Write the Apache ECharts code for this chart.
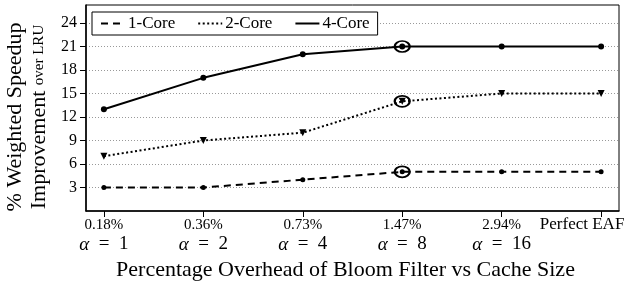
<!DOCTYPE html>
<html>
<head>
<meta charset="utf-8">
<script src="https://cdn.jsdelivr.net/npm/echarts@6/dist/echarts.min.js"></script>
<style>
html,body{margin:0;padding:0;background:#fff;}
#chart{width:628px;height:285px;}
</style>
</head>
<body>
<div id="chart"></div>
<script>
// 数据
var overheads = ['0.18%', '0.36%', '0.73%', '1.47%', '2.94%', 'Perfect EAF'];
var alphas = ['1', '2', '4', '8', '16', ''];
var core1 = [3, 3, 4, 5, 5, 5];
var core2 = [7, 9, 10, 14, 15, 15];
var core4 = [13, 17, 20, 21, 21, 21];
var yTicks = [3, 6, 9, 12, 15, 18, 21, 24];
var chosen = 3; // 1.47% 圈出的点

var font = 'Liberation Serif';

function pairs(arr){
    return arr.map(function(v, i){ return [i, v]; });
}

//圈出选中的点
function mk(arr){
    return {
        symbol: 'circle',
        symbolSize: [15, 11],
        itemStyle: {color: 'rgba(0,0,0,0)', borderColor: '#000', borderWidth: 2},
        label: {show: false},
        data: [{coord: [chosen, arr[chosen]]}]
    };
}

var oChart = echarts.init(document.getElementById('chart'));
var option = {
    animation: false,
    textStyle: {fontFamily: font, color: '#000'},
    grid: {
        left: 86, right: 9, top: 5, bottom: 74,
        outerBoundsMode: 'none',
        containLabel: false,
        show: true, borderColor: '#000', borderWidth: 1
    },
    legend: {
        left: 92, top: 12,
        width: 287,
        padding: [3, 8, 3, 8],
        itemWidth: 24, itemHeight: 12, itemGap: 22,
        backgroundColor: '#fff',
        borderColor: '#000', borderWidth: 1,
        textStyle: {fontFamily: font, fontSize: 17, color: '#000', padding: [0, 0, 0, -2]},
        itemStyle: {opacity: 0},
        data: ['1-Core', '2-Core', '4-Core']
    },
    xAxis: {
        type: 'value',
        min: -0.18, max: 5.18,
        name: 'Percentage Overhead of Bloom Filter vs Cache Size',
        nameLocation: 'middle',
        nameGap: 44,
        nameTextStyle: {fontFamily: font, fontSize: 22, color: '#000', padding: [0, 14, 0, 0]},
        axisLine: {show: true, onZero: false, lineStyle: {color: '#000', width: 1.5}},
        axisTick: {show: true, customValues: [0, 1, 2, 3, 4, 5], length: 6, lineStyle: {color: '#000'}},
        splitLine: {show: false},
        axisLabel: {
            customValues: [0, 1, 2, 3, 4, 5],
            margin: 6,
            formatter: function(v){
                var i = Math.round(v);
                if (!alphas[i]) return '{e|' + overheads[i] + '}';
                return '{p|' + overheads[i] + '}\n{a|α}{m|\u2002=\u2002' + alphas[i] + '}';
            },
            rich: {
                p: {fontFamily: font, fontSize: 15, lineHeight: 16, color: '#000'},
                a: {fontFamily: font, fontSize: 19, fontStyle: 'italic', lineHeight: 23, color: '#000'},
                m: {fontFamily: font, fontSize: 19, lineHeight: 23, color: '#000'},
                e: {fontFamily: font, fontSize: 17, lineHeight: 16, color: '#000', padding: [0, 38, 0, 0]}
            }
        }
    },
    yAxis: {
        type: 'value',
        min: 0, max: 26.3, interval: 3,
        name: '{a|% Weighted Speedup}\n{b|Improvement }{c|over LRU}',
        nameLocation: 'middle',
        nameRotate: 90,
        nameGap: 35,
        nameTextStyle: {
            fontFamily: font, color: '#000',
            padding: [0, 18, 0, 0],
            rich: {
                a: {fontFamily: font, fontSize: 22, lineHeight: 24, color: '#000'},
                b: {fontFamily: font, fontSize: 22, lineHeight: 24, color: '#000'},
                c: {fontFamily: font, fontSize: 15, lineHeight: 24, color: '#000'}
            }
        },
        axisLine: {show: true, onZero: false, lineStyle: {color: '#000', width: 1.5}},
        axisTick: {show: true, customValues: yTicks, length: 6, lineStyle: {color: '#000'}},
        splitLine: {show: true, lineStyle: {color: '#999', type: [1, 2], width: 1}},
        axisLabel: {
            customValues: yTicks,
            margin: 9,
            fontFamily: font, fontSize: 16, color: '#000'
        }
    },
    series: [
        {
            name: '1-Core', type: 'line',
            data: pairs(core1),
            symbol: 'circle', symbolSize: 5,
            lineStyle: {color: '#000', width: 2, type: [7, 5]},
            itemStyle: {color: '#000'},
            markPoint: mk(core1)
        },
        {
            name: '2-Core', type: 'line',
            data: pairs(core2),
            symbol: 'triangle', symbolRotate: 180, symbolSize: 7,
            lineStyle: {color: '#000', width: 2, type: [2, 2.5]},
            itemStyle: {color: '#000'},
            markPoint: mk(core2)
        },
        {
            name: '4-Core', type: 'line',
            data: pairs(core4),
            symbol: 'circle', symbolSize: 6,
            lineStyle: {color: '#000', width: 2},
            itemStyle: {color: '#000'},
            markPoint: mk(core4)
        }
    ]
};
oChart.setOption(option);
</script>
</body>
</html>
